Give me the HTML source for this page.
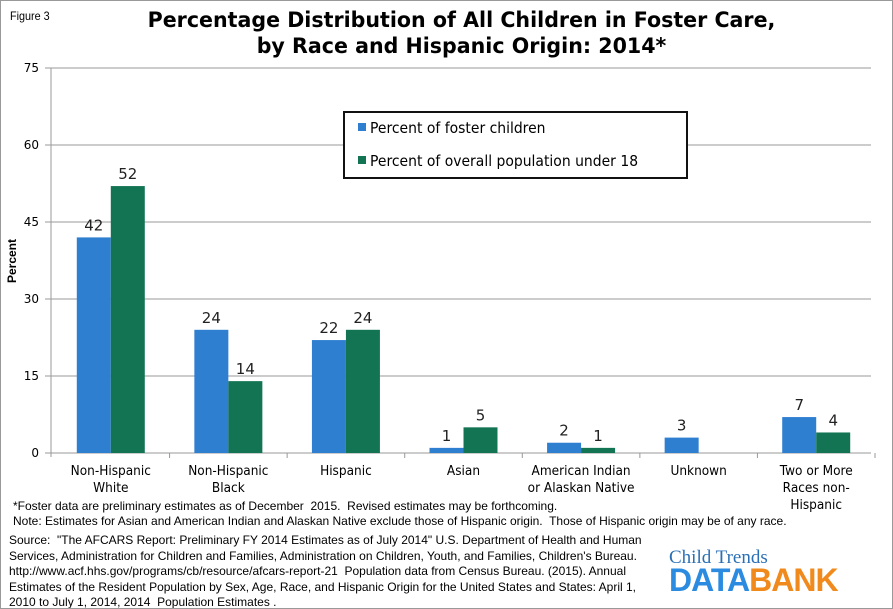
<!DOCTYPE html>
<html><head><meta charset="utf-8"><style>
body{margin:0;background:#fff;}
#wrap{position:relative;width:893px;height:609px;overflow:hidden;font-family:"Liberation Sans",sans-serif;border:1px solid #999;box-sizing:border-box;}
.t{position:absolute;white-space:nowrap;}
</style></head><body>
<div id="wrap">
<div class="t" style="left:9px;top:8px;font-size:12px;transform:scaleX(.9);transform-origin:left">Figure 3</div>
<div class="t" style="left:14px;width:893px;top:6px;text-align:center;font-size:21px;font-weight:bold;line-height:26px;font-family:'DejaVu Sans',sans-serif;transform:scaleX(.98)">Percentage Distribution of All Children in Foster Care,<br>by Race and Hispanic Origin: 2014*</div>
<svg id="chart" width="893" height="609" style="position:absolute;left:0;top:0"></svg>
<div class="t" style="left:12px;top:498px;font-size:12px;line-height:15px;transform:scaleX(1.0);transform-origin:left">*Foster data are preliminary estimates as of December&nbsp; 2015.&nbsp; Revised estimates may be forthcoming.<br>Note: Estimates for Asian and American Indian and Alaskan Native exclude those of Hispanic origin.&nbsp; Those of Hispanic origin may be of any race.</div>
<div class="t" style="left:8px;top:532px;font-size:12px;line-height:15.6px;transform:scaleX(1.0);transform-origin:left">Source:&nbsp; "The AFCARS Report: Preliminary FY 2014 Estimates as of July 2014" U.S. Department of Health and Human<br>Services, Administration for Children and Families, Administration on Children, Youth, and Families, Children's Bureau.<br>http://www.acf.hhs.gov/programs/cb/resource/afcars-report-21&nbsp; Population data from Census Bureau. (2015). Annual<br>Estimates of the Resident Population by Sex, Age, Race, and Hispanic Origin for the United States and States: April 1,<br>2010 to July 1, 2014, 2014&nbsp; Population Estimates .</div>
<div class="t" style="left:668px;top:546px;font-family:'Liberation Serif',serif;font-size:19px;color:#2a6fb5">Child Trends</div>
<div class="t" style="left:668px;top:561px;font-size:32px;font-weight:bold;letter-spacing:-1px"><span style="color:#2a8be0">DATA</span><span style="color:#f08a1c">BANK</span></div>
</div>
<script>
const categories=[["Non-Hispanic","White"],["Non-Hispanic","Black"],["Hispanic"],["Asian"],["American Indian","or Alaskan Native"],["Unknown"],["Two or More","Races non-","Hispanic"]];
const fosterValues=[42,24,22,1,2,3,7];
const populationValues=[52,14,24,5,1,null,4];
const yTicks=[0,15,30,45,60,75];
const svg=document.getElementById('chart');const NS='http://www.w3.org/2000/svg';
const X0=51,X1=874,Y0=452,Y1=67,YMAX=75;
const step=(X1-X0)/categories.length;
const y=v=>Y0-(v/YMAX)*(Y0-Y1);
const xc=i=>X0+step*(i+0.5);
function el(t,a,txt){const e=document.createElementNS(NS,t);for(const k in a)e.setAttribute(k,a[k]);if(txt!=null)e.textContent=txt;svg.appendChild(e);return e;}
yTicks.forEach(v=>{
 const g=el('line',{x1:44,x2:870,y1:y(v),y2:y(v),stroke:v===0?'#999':'#9a9a9a','stroke-width':1});
 
 
 const t=el('text',{x:38,y:y(v)+4,'text-anchor':'end','font-size':12,'font-family':'DejaVu Sans, sans-serif'},v);
 
 
});
const ax=el('line',{x1:X0-1,x2:X0-1,y1:Y1,y2:Y0+4,stroke:'#999'});


categories.forEach((c,i)=>{
 const tk=el('line',{x1:X0+step*(i+1),x2:X0+step*(i+1),y1:Y0,y2:Y0+5,stroke:'#999'});
 
 
 c.forEach((ln,j)=>{
  const t=el('text',{x:xc(i),y:474+j*17,'text-anchor':'middle','font-size':13.5,'font-family':'DejaVu Sans, sans-serif',transform:`translate(${xc(i)},0) scale(0.9,1) translate(${-xc(i)},0)`},ln);
  
  
 });
 const bw=34;
 [[fosterValues[i],'#2e7fd0',-bw],[populationValues[i],'#137454',0]].forEach(([v,col,off],s)=>{
  if(v==null)return;
  const r=el('rect',{x:xc(i)+off,y:y(v),width:bw,height:Y0-y(v),fill:col});
  
  
  const t=el('text',{x:xc(i)+off+bw/2,y:y(v)-7,'text-anchor':'middle','font-size':15,'font-family':'DejaVu Sans, sans-serif',fill:'#222'},v);
  
  
 });
});
const yt=el('text',{x:0,y:0,'font-size':12,'font-weight':'bold','text-anchor':'middle',transform:'translate(15,260) rotate(-90)'},'Percent');


const lg=el('rect',{x:343,y:111,width:343,height:66,fill:'#fff',stroke:'#111','stroke-width':2});


[['Percent of foster children','#2e7fd0'],['Percent of overall population under 18','#137454']].forEach(([n,c],k)=>{
 const s=el('rect',{x:357,y:122+k*33,width:8,height:8,fill:c});
 
 
 const t=el('text',{x:369,y:132+k*33,'font-size':15,'font-family':'DejaVu Sans, sans-serif',transform:`translate(369,0) scale(0.93,1) translate(-369,0)`},n);
 
 
});
</script>
</body></html>
